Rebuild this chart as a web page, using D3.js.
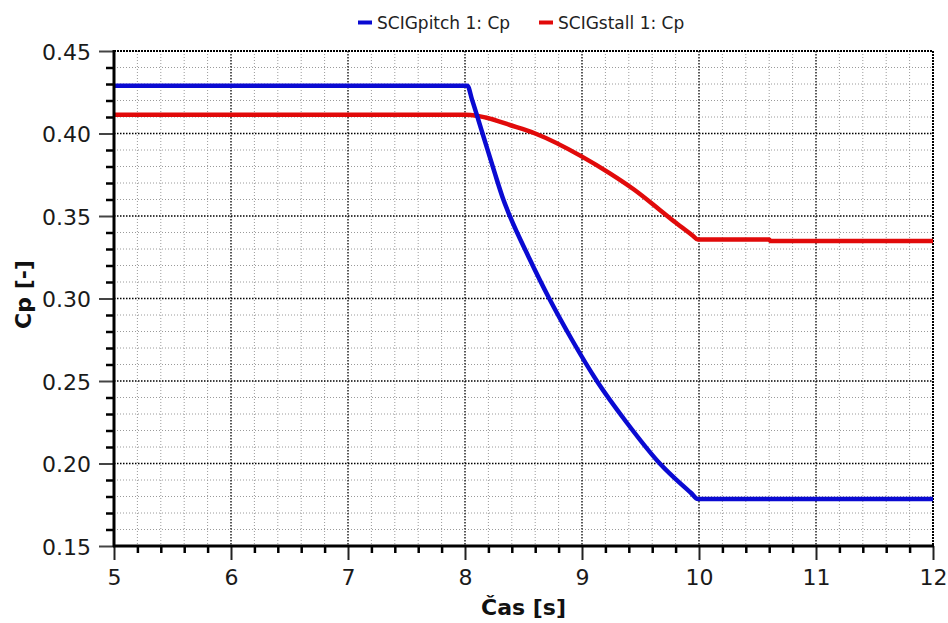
<!DOCTYPE html>
<html><head><meta charset="utf-8">
<script src="https://cdn.jsdelivr.net/npm/d3@7"></script>
<style>
body{margin:0;background:#fff;}
svg{display:block;}
</style></head>
<body>
<svg id="chart" width="948" height="623"></svg>
<script>
// ---- data ----
const seriesNames = ["SCIGpitch 1: Cp", "SCIGstall 1: Cp"];
const seriesColors = ["#0a0ad2", "#e10a0a"];
const pitchT  = [5, 8.02, 8.06, 8.15, 8.25, 8.33, 8.38, 8.545, 8.72, 8.914, 9.127, 9.38, 9.665, 9.85, 9.93, 9.99, 12];
const pitchCp = [0.4290, 0.4290, 0.4205, 0.400, 0.377, 0.3595, 0.3505, 0.325, 0.300, 0.275, 0.250, 0.225, 0.200, 0.1873, 0.1823, 0.1785, 0.1785];
const stallT  = [5, 8.0, 8.1, 8.176, 8.389, 8.6, 9.0, 9.235, 9.447, 9.66, 9.8, 9.95, 9.99, 10.6, 10.61, 12];
const stallCp = [0.4113, 0.4113, 0.4108, 0.4097, 0.405, 0.400, 0.386, 0.376, 0.3659, 0.354, 0.346, 0.3379, 0.3357, 0.3357, 0.3349, 0.3349];
const xTicks = [5, 6, 7, 8, 9, 10, 11, 12];
const yTicks = [0.15, 0.20, 0.25, 0.30, 0.35, 0.40, 0.45];
const xTitle = "Čas [s]";
const yTitle = "Cp [-]";

// ---- layout ----
const L = 114, R = 933, T = 51, B = 546;
const svg = d3.select("#chart");
const x = d3.scaleLinear().domain([5, 12]).range([L, R]);
const y = d3.scaleLinear().domain([0.15, 0.45]).range([B, T]);

const xMinor = d3.range(5, 12.0001, 0.2).map(v => +v.toFixed(2));
const yMinor = d3.range(0.15, 0.45001, 0.01).map(v => +v.toFixed(3));
const isMajorX = v => Math.abs(v - Math.round(v)) < 1e-6;
const isMajorY = v => Math.abs(v * 20 - Math.round(v * 20)) < 1e-6;

// grid
const g = svg.append("g");
g.selectAll("line.vminor").data(xMinor.filter(v => !isMajorX(v))).join("line")
  .attr("x1", d => x(d)).attr("x2", d => x(d)).attr("y1", T).attr("y2", B)
  .attr("stroke", "#9a9a9a").attr("stroke-width", 1).attr("stroke-dasharray", "1,2");
g.selectAll("line.hminor").data(yMinor.filter(v => !isMajorY(v))).join("line")
  .attr("y1", d => y(d)).attr("y2", d => y(d)).attr("x1", L).attr("x2", R)
  .attr("stroke", "#9a9a9a").attr("stroke-width", 1).attr("stroke-dasharray", "1,2");
g.selectAll("line.vmajor").data(xTicks.slice(1, -1)).join("line")
  .attr("x1", d => x(d)).attr("x2", d => x(d)).attr("y1", T).attr("y2", B)
  .attr("stroke", "#000").attr("stroke-width", 1.3).attr("stroke-dasharray", "1.5,1.5");
g.selectAll("line.hmajor").data(yTicks.slice(1, -1)).join("line")
  .attr("y1", d => y(d)).attr("y2", d => y(d)).attr("x1", L).attr("x2", R)
  .attr("stroke", "#000").attr("stroke-width", 1.3).attr("stroke-dasharray", "1.5,1.5");

// top/right dotted border
svg.append("line").attr("x1", L).attr("x2", R).attr("y1", T).attr("y2", T)
  .attr("stroke", "#000").attr("stroke-width", 2).attr("stroke-dasharray", "2,1");
svg.append("line").attr("x1", R).attr("x2", R).attr("y1", T).attr("y2", B)
  .attr("stroke", "#000").attr("stroke-width", 2).attr("stroke-dasharray", "2,1");

// series
const line = d3.line().x(d => x(d[0])).y(d => y(d[1])).curve(d3.curveMonotoneX);
const pitch = pitchT.map((t, i) => [t, pitchCp[i]]);
const stall = stallT.map((t, i) => [t, stallCp[i]]);
svg.append("path").datum(stall).attr("d", line).attr("fill", "none")
  .attr("stroke", seriesColors[1]).attr("stroke-width", 4.5).attr("stroke-linejoin", "round");
svg.append("path").datum(pitch).attr("d", line).attr("fill", "none")
  .attr("stroke", seriesColors[0]).attr("stroke-width", 4.5).attr("stroke-linejoin", "round");

// axes
const font = "'DejaVu Sans', Verdana, sans-serif";
const yAxisMinor = d3.axisLeft(y).tickValues(yMinor.filter(v => !isMajorY(v))).tickSize(8).tickFormat("").tickSizeOuter(0);
const yAxis = d3.axisLeft(y).tickValues(yTicks).tickSize(15).tickPadding(8).tickFormat(d3.format(".2f")).tickSizeOuter(0);
const xAxisMinor = d3.axisBottom(x).tickValues(xMinor.filter(v => !isMajorX(v))).tickSize(7).tickFormat("").tickSizeOuter(0);
const xAxis = d3.axisBottom(x).tickValues(xTicks).tickSize(14).tickPadding(9).tickFormat(d3.format("d")).tickSizeOuter(0);

const ym = svg.append("g").attr("transform", `translate(${L},0)`).call(yAxisMinor);
ym.selectAll(".tick line").attr("stroke", "#000").attr("stroke-width", 2.5);
ym.select(".domain").remove();
const ya = svg.append("g").attr("transform", `translate(${L},0)`).call(yAxis);
ya.selectAll(".tick line").attr("stroke", "#444").attr("stroke-width", 2);
ya.selectAll(".tick text").attr("font-family", font).attr("font-size", 22).attr("fill", "#1a1a1a").attr("dy", "0.38em");
ya.select(".domain").remove();

const xm = svg.append("g").attr("transform", `translate(0,${B})`).call(xAxisMinor);
xm.selectAll(".tick line").attr("stroke", "#000").attr("stroke-width", 2.5);
xm.select(".domain").remove();
const xa = svg.append("g").attr("transform", `translate(0,${B})`).call(xAxis);
xa.selectAll(".tick line").attr("stroke", "#222").attr("stroke-width", 2);
xa.selectAll(".tick text").attr("font-family", font).attr("font-size", 22).attr("fill", "#1a1a1a");
xa.select(".domain").remove();

// solid left/bottom axis lines
svg.append("line").attr("x1", L).attr("x2", L).attr("y1", T - 1).attr("y2", B + 1)
  .attr("stroke", "#000").attr("stroke-width", 3);
svg.append("line").attr("x1", L - 1).attr("x2", R + 1).attr("y1", B).attr("y2", B)
  .attr("stroke", "#000").attr("stroke-width", 3);

// titles
svg.append("text").attr("x", (L + R) / 2).attr("y", 615).attr("text-anchor", "middle")
  .attr("font-family", font).attr("font-weight", "bold").attr("font-size", 22).attr("fill", "#111")
  .text(xTitle);
svg.append("text").attr("transform", `translate(31,${(T + B) / 2 - 4}) rotate(-90)`).attr("text-anchor", "middle")
  .attr("font-family", font).attr("font-weight", "bold").attr("font-size", 22).attr("fill", "#111")
  .text(yTitle);

// legend
const legX = [358, 539];
const lg = svg.append("g");
seriesNames.forEach((name, i) => {
  lg.append("line").attr("x1", legX[i]).attr("x2", legX[i] + 14).attr("y1", 22.5).attr("y2", 22.5)
    .attr("stroke", seriesColors[i]).attr("stroke-width", 4);
  lg.append("text").attr("x", legX[i] + 19).attr("y", 29)
    .attr("font-family", font)
    .attr("font-size", 17).attr("fill", "#222").text(name);
});
</script>
</body></html>
